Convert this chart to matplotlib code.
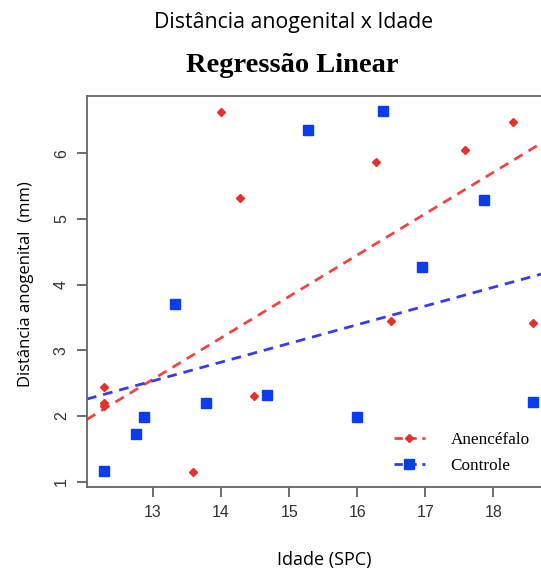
import matplotlib.pyplot as plt


# Anencéfalo (red diamonds)
anen_idade = [12.28, 12.28, 12.28, 13.59, 14.0, 14.27, 14.48, 16.28, 16.49, 17.58, 18.29, 18.58]
anen_dist = [2.44, 2.20, 2.15, 1.15, 6.63, 5.32, 2.31, 5.86, 3.45, 6.05, 6.47, 3.42]

# Controle (blue squares)
ctrl_idade = [12.28, 12.75, 12.87, 13.32, 13.78, 14.68, 15.27, 16.0, 16.38, 16.95, 17.86, 18.58]
ctrl_dist = [1.17, 1.73, 1.99, 3.71, 2.20, 2.32, 6.36, 1.99, 6.64, 4.27, 5.29, 2.22]

# regression lines (intercept, slope) as drawn in the figure
anen_fit = (-5.63, 0.63)
ctrl_fit = (-1.17, 0.285)

x_ticks = [13, 14, 15, 16, 17, 18]
y_ticks = [1, 2, 3, 4, 5, 6]

red_pt = '#e8302a'
red_ln = '#f04545'
blue_pt = '#0a3cf0'
blue_ln = '#3a3af5'

fig = plt.figure(figsize=(5.41, 5.69), dpi=100)
ax = fig.add_axes([87 / 541, (569 - 487) / 569, (550 - 87) / 541, (487 - 96) / 569])

ax.plot(anen_idade, anen_dist, ls='none', marker='D', ms=4.5, color=red_pt, mec=red_pt, zorder=3)
ax.plot(ctrl_idade, ctrl_dist, ls='none', marker='s', ms=6.5, color=blue_pt, mec=blue_pt, zorder=3)

ax.axline((0, anen_fit[0]), slope=anen_fit[1], color=red_ln, lw=2, ls=(0, (3.5, 2.5)))
ax.axline((0, ctrl_fit[0]), slope=ctrl_fit[1], color=blue_ln, lw=2, ls=(0, (3.5, 2.5)))

# dummy handles for the legend (line + marker)
h1, = ax.plot([], [], color=red_ln, lw=2, ls=(0, (3, 2)), marker='D', ms=4.5, mfc=red_pt, mec=red_pt)
h2, = ax.plot([], [], color=blue_ln, lw=2, ls=(0, (3, 2)), marker='s', ms=6.5, mfc=blue_pt, mec=blue_pt)
ax.legend([h1, h2], ['Anencéfalo', 'Controle'], loc='upper left', bbox_to_anchor=(0.63, 0.18),
          frameon=False, prop={'family': 'Liberation Serif', 'size': 12.3}, handlelength=1.8,
          handletextpad=1.5, labelspacing=0.6)

ax.set_xlim(12.03, 18.83)
ax.set_ylim(0.92, 6.87)
ax.set_xticks(x_ticks)
ax.set_yticks(y_ticks)
ax.tick_params(direction='out', length=7, width=1.2, color='#555555', labelsize=11.5,
               labelcolor='#333333', pad=6)
for lab in ax.get_xticklabels() + ax.get_yticklabels():
    lab.set_family('Liberation Sans')
for lab in ax.get_yticklabels():
    lab.set_rotation(90)
    lab.set_va('center')
for s in ax.spines.values():
    s.set_color('#666666')
    s.set_linewidth(1.3)

ax.set_xlabel('Idade (SPC)', family='Open Sans', fontsize=13)
ax.xaxis.set_label_coords((324 - 87) / 463, (487 - 560) / 391)
ax.xaxis.label.set_va('center')
ax.set_ylabel('Distância anogenital  (mm)', family='Open Sans', fontsize=12)
ax.yaxis.set_label_coords((26 - 87) / 463, (487 - 284) / 391)
ax.yaxis.label.set_va('center')

fig.text(294 / 541, (569 - 28) / 569, 'Distância anogenital x Idade', family='Open Sans',
         fontsize=15.3, ha='center', va='baseline')
fig.text(292 / 541, (569 - 72) / 569, 'Regressão Linear', family='Liberation Serif',
         fontweight='bold', fontsize=20.5, ha='center', va='baseline')

fig.savefig('out.png', dpi=100)
